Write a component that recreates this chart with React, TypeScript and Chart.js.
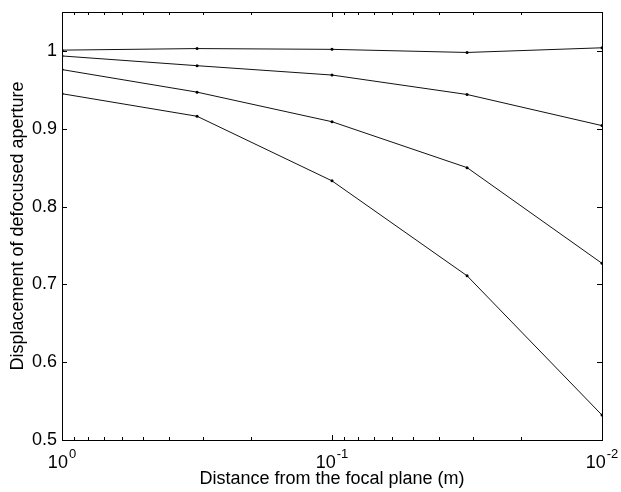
import React, { useEffect, useRef } from 'react';
import { Chart, registerables } from 'chart.js';

Chart.register(...registerables);

// Distance from the focal plane (m)
const distances = [1, 0.316, 0.1, 0.0316, 0.01];
// Displacement of defocused aperture, one array per curve
const series1 = [1.001, 1.003, 1.002, 0.998, 1.004];
const series2 = [0.9935, 0.981, 0.969, 0.944, 0.904];
const series3 = [0.976, 0.947, 0.909, 0.85, 0.727];
const series4 = [0.945, 0.916, 0.833, 0.711, 0.532];

const yTicks = [0.5, 0.6, 0.7, 0.8, 0.9, 1];
const yTickLabels = ['0.5', '0.6', '0.7', '0.8', '0.9', '1'];
const xMajorTicks = [1, 0.1, 0.01];
const xMajorExponents = ['0', '-1', '-2'];
const xMinorTicks = [0.9, 0.8, 0.7, 0.6, 0.5, 0.4, 0.3, 0.2, 0.09, 0.08, 0.07, 0.06, 0.05, 0.04, 0.03, 0.02];
const xTitle = 'Distance from the focal plane (m)';
const yTitle = 'Displacement of defocused aperture';

const FONT = '"Liberation Sans", Arial, Helvetica, sans-serif';

const axesPlugin = {
  id: 'matlabAxes',
  afterDraw(chart: any) {
    const { ctx, chartArea } = chart;
    const xs = chart.scales.x;
    const ys = chart.scales.y;
    const { left, right, top, bottom } = chartArea;
    ctx.save();
    ctx.strokeStyle = '#000';
    ctx.lineWidth = 1;
    ctx.strokeRect(Math.round(left) + 0.5, Math.round(top) + 0.5, Math.round(right - left), Math.round(bottom - top));

    ctx.beginPath();
    // y ticks on both sides, inside
    yTicks.forEach((v) => {
      const py = Math.round(ys.getPixelForValue(v)) + 0.5;
      ctx.moveTo(left, py);
      ctx.lineTo(left + 5, py);
      ctx.moveTo(right, py);
      ctx.lineTo(right - 5, py);
    });
    // x major ticks
    xMajorTicks.forEach((v) => {
      const px = Math.round(xs.getPixelForValue(v)) + 0.5;
      ctx.moveTo(px, bottom);
      ctx.lineTo(px, bottom - 5);
      ctx.moveTo(px, top);
      ctx.lineTo(px, top + 5);
    });
    // x minor ticks
    xMinorTicks.forEach((v) => {
      const px = Math.round(xs.getPixelForValue(v)) + 0.5;
      ctx.moveTo(px, bottom);
      ctx.lineTo(px, bottom - 3);
      ctx.moveTo(px, top);
      ctx.lineTo(px, top + 3);
    });
    ctx.stroke();

    ctx.fillStyle = '#000';
    // y tick labels
    ctx.font = `18px ${FONT}`;
    ctx.textAlign = 'right';
    ctx.textBaseline = 'middle';
    yTicks.forEach((v, i) => {
      ctx.fillText(yTickLabels[i], left - 5, ys.getPixelForValue(v));
    });

    // x tick labels with superscript exponent
    ctx.textBaseline = 'alphabetic';
    ctx.textAlign = 'left';
    xMajorTicks.forEach((v, i) => {
      const px = xs.getPixelForValue(v);
      ctx.font = `18px ${FONT}`;
      const wBase = ctx.measureText('10').width;
      ctx.font = `13px ${FONT}`;
      const wExp = ctx.measureText(xMajorExponents[i]).width;
      const start = px - (wBase + 1 + wExp) / 2;
      ctx.font = `18px ${FONT}`;
      ctx.fillText('10', start, bottom + 28);
      ctx.font = `13px ${FONT}`;
      ctx.fillText(xMajorExponents[i], start + wBase + 1, bottom + 18);
    });

    // x title
    ctx.font = `18px ${FONT}`;
    ctx.textAlign = 'center';
    ctx.fillText(xTitle, (left + right) / 2, bottom + 44);

    // y title
    ctx.translate(18, (top + bottom) / 2);
    ctx.rotate(-Math.PI / 2);
    ctx.textBaseline = 'middle';
    ctx.fillText(yTitle, 0, 0);
    ctx.restore();
  },
};

export default function App() {
  const ref = useRef<HTMLCanvasElement | null>(null);

  useEffect(() => {
    if (!ref.current) return;
    const mk = (vals: number[]) => ({
      data: distances.map((d, i) => ({ x: d, y: vals[i] })),
      borderColor: '#111',
      borderWidth: 1,
      pointRadius: 1.5,
      pointBackgroundColor: '#000',
      pointBorderWidth: 0,
      tension: 0,
      fill: false,
    });
    const chart = new Chart(ref.current, {
      type: 'line',
      data: { datasets: [mk(series1), mk(series2), mk(series3), mk(series4)] },
      options: {
        animation: false,
        responsive: false,
        devicePixelRatio: 1,
        layout: { padding: { top: 12, right: 19, left: 0, bottom: 0 } },
        plugins: { legend: { display: false }, tooltip: { enabled: false } },
        scales: {
          x: {
            type: 'logarithmic',
            reverse: true,
            min: 0.01,
            max: 1,
            grid: { display: false },
            border: { display: false },
            ticks: { display: false },
            afterFit: (s: any) => {
              s.height = 52;
            },
          },
          y: {
            type: 'linear',
            min: 0.5,
            max: 1.05,
            grid: { display: false },
            border: { display: false },
            ticks: { display: false },
            afterFit: (s: any) => {
              s.width = 62;
            },
          },
        },
      },
      plugins: [axesPlugin],
    } as any);
    return () => chart.destroy();
  }, []);

  return (
    <div style={{ position: 'absolute', left: 0, top: 0, width: 621, height: 492, background: '#fff' }}>
      <canvas ref={ref} width={621} height={492} />
    </div>
  );
}
